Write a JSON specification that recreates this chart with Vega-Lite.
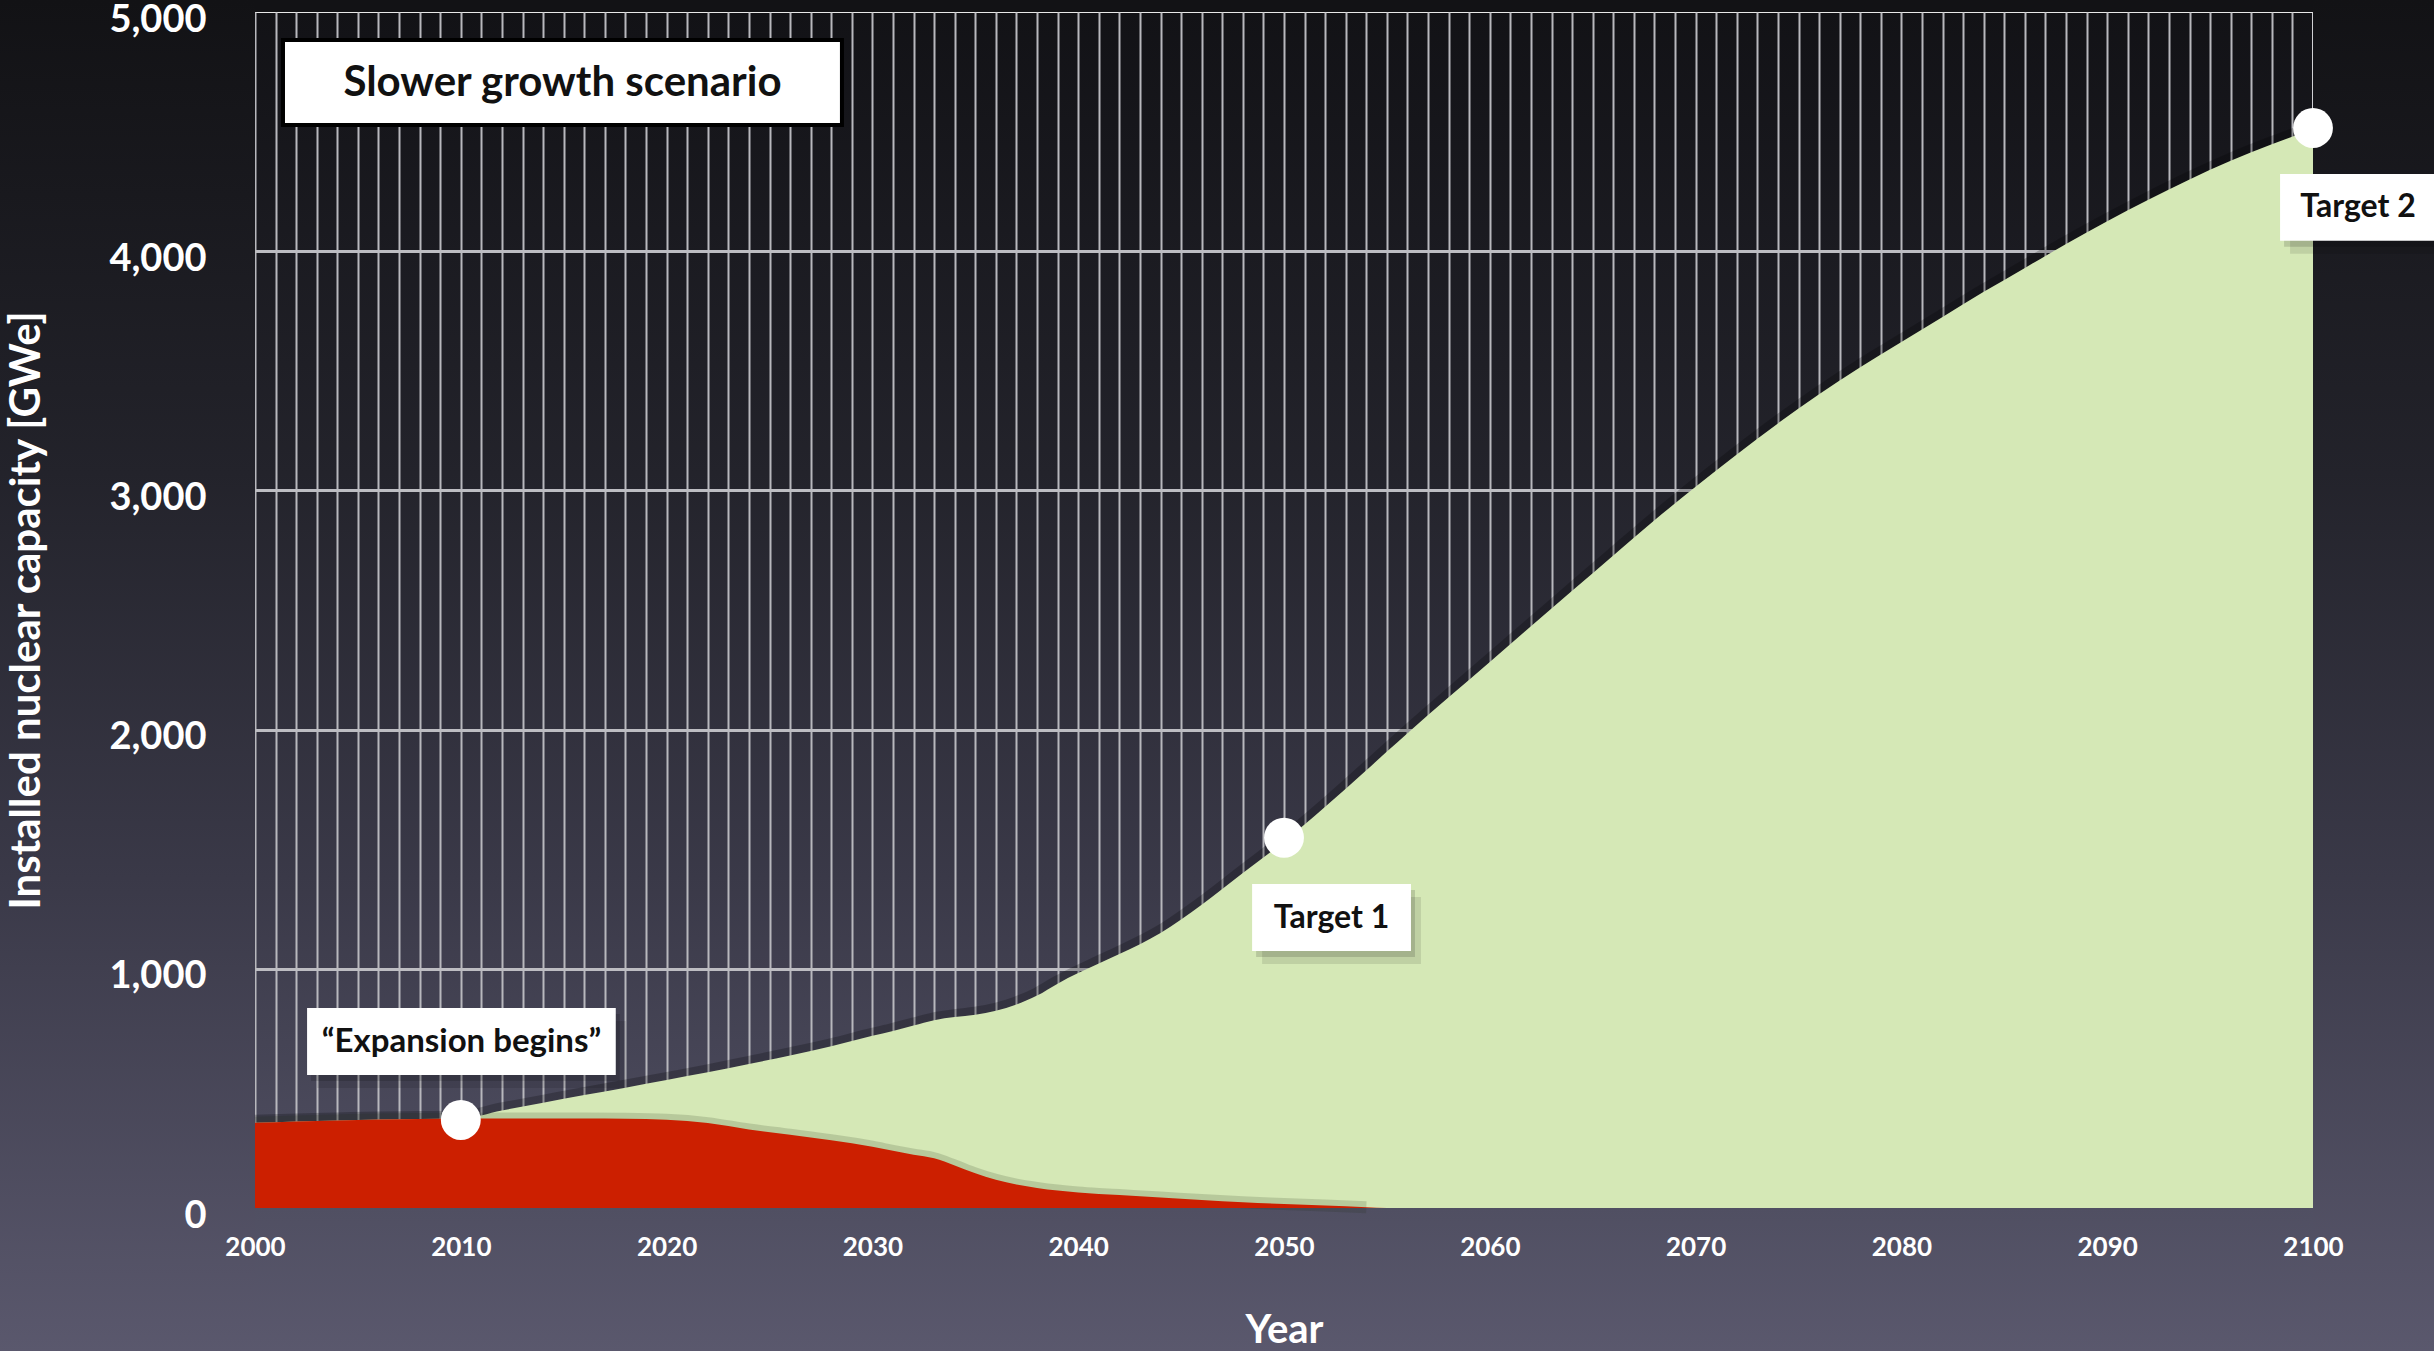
{
  "$schema": "https://vega.github.io/schema/vega-lite/v6.json",
  "width": 2058,
  "height": 1196,
  "autosize": {"type": "none"},
  "padding": {"left": 255, "top": 12, "right": 121, "bottom": 143},
  "background": "#2a2a33",
  "config": {
    "font": "Lato",
    "view": {
      "fill": {
        "gradient": "linear", "x1": 0, "y1": 0, "x2": 0, "y2": 1,
        "stops": [
          {"offset": 0, "color": "#121216"},
          {"offset": 0.385, "color": "#23232b"},
          {"offset": 0.724, "color": "#3a3948"},
          {"offset": 1, "color": "#504f62"}
        ]
      },
      "stroke": "#e8e8e8",
      "strokeWidth": 2
    }
  },
  "datasets": {
    "capacity": [
      {"year": 2000, "total": 356, "existing": 356},
      {"year": 2002, "total": 362, "existing": 362},
      {"year": 2004, "total": 366, "existing": 366},
      {"year": 2006, "total": 370, "existing": 370},
      {"year": 2008, "total": 372, "existing": 372},
      {"year": 2010, "total": 374, "existing": 373},
      {"year": 2012, "total": 408, "existing": 374},
      {"year": 2014, "total": 440, "existing": 374},
      {"year": 2016, "total": 472, "existing": 374},
      {"year": 2018, "total": 503, "existing": 373},
      {"year": 2020, "total": 535, "existing": 369},
      {"year": 2022, "total": 567, "existing": 355},
      {"year": 2024, "total": 602, "existing": 328},
      {"year": 2026, "total": 638, "existing": 306},
      {"year": 2028, "total": 676, "existing": 283},
      {"year": 2030, "total": 720, "existing": 256},
      {"year": 2031, "total": 740, "existing": 239},
      {"year": 2032, "total": 763, "existing": 223},
      {"year": 2033, "total": 785, "existing": 208},
      {"year": 2034, "total": 798, "existing": 178},
      {"year": 2035, "total": 808, "existing": 145},
      {"year": 2036, "total": 825, "existing": 118},
      {"year": 2037, "total": 851, "existing": 98},
      {"year": 2038, "total": 888, "existing": 84},
      {"year": 2039, "total": 938, "existing": 73},
      {"year": 2040, "total": 982, "existing": 65},
      {"year": 2041, "total": 1022, "existing": 59},
      {"year": 2042, "total": 1062, "existing": 54},
      {"year": 2044, "total": 1150, "existing": 44},
      {"year": 2046, "total": 1268, "existing": 33},
      {"year": 2048, "total": 1400, "existing": 24},
      {"year": 2050, "total": 1532, "existing": 17},
      {"year": 2052, "total": 1677, "existing": 10},
      {"year": 2054, "total": 1830, "existing": 3},
      {"year": 2055, "total": 1908, "existing": 0},
      {"year": 2056, "total": 1985, "existing": 0},
      {"year": 2058, "total": 2135, "existing": 0},
      {"year": 2060, "total": 2283, "existing": 0},
      {"year": 2062, "total": 2432, "existing": 0},
      {"year": 2064, "total": 2580, "existing": 0},
      {"year": 2066, "total": 2728, "existing": 0},
      {"year": 2068, "total": 2875, "existing": 0},
      {"year": 2070, "total": 3015, "existing": 0},
      {"year": 2072, "total": 3150, "existing": 0},
      {"year": 2074, "total": 3280, "existing": 0},
      {"year": 2076, "total": 3402, "existing": 0},
      {"year": 2078, "total": 3515, "existing": 0},
      {"year": 2080, "total": 3620, "existing": 0},
      {"year": 2082, "total": 3725, "existing": 0},
      {"year": 2084, "total": 3830, "existing": 0},
      {"year": 2086, "total": 3930, "existing": 0},
      {"year": 2088, "total": 4030, "existing": 0},
      {"year": 2090, "total": 4125, "existing": 0},
      {"year": 2092, "total": 4215, "existing": 0},
      {"year": 2094, "total": 4300, "existing": 0},
      {"year": 2096, "total": 4378, "existing": 0},
      {"year": 2098, "total": 4447, "existing": 0},
      {"year": 2100, "total": 4510, "existing": 0}
    ],
    "milestones": [
      {"year": 2010, "capacity": 368},
      {"year": 2050, "capacity": 1548},
      {"year": 2100, "capacity": 4515}
    ],
    "single": [{}]
  },
  "resolve": {"axis": {"x": "independent", "y": "independent"}},
  "layer": [
    {
      "description": "backdrop left of the plot",
      "data": {"name": "single"},
      "mark": {"type": "rect", "fill": {"gradient": "linear", "x1": 0, "y1": 0, "x2": 0, "y2": 1, "stops": [
        {"offset": 0, "color": "#121215"}, {"offset": 0.35, "color": "#23232b"},
        {"offset": 0.65, "color": "#3a3948"}, {"offset": 1, "color": "#5a586d"}]}},
      "encoding": {
        "x": {"datum": 1980, "type": "quantitative", "scale": {"domain": [2000, 2100], "nice": false, "zero": false}, "axis": null},
        "x2": {"datum": 2000},
        "y": {"datum": 5050.2, "type": "quantitative", "scale": {"domain": [0, 5000], "nice": false}, "axis": null},
        "y2": {"datum": -597.8}
      }
    },
    {
      "description": "backdrop right of the plot",
      "data": {"name": "single"},
      "mark": {"type": "rect", "fill": {"gradient": "linear", "x1": 0, "y1": 0, "x2": 0, "y2": 1, "stops": [
        {"offset": 0, "color": "#121215"}, {"offset": 0.35, "color": "#23232b"},
        {"offset": 0.65, "color": "#3a3948"}, {"offset": 1, "color": "#5a586d"}]}},
      "encoding": {
        "x": {"datum": 2100, "type": "quantitative", "axis": null},
        "x2": {"datum": 2120},
        "y": {"datum": 5050.2, "type": "quantitative", "axis": null},
        "y2": {"datum": -597.8}
      }
    },
    {
      "description": "backdrop above the plot",
      "data": {"name": "single"},
      "mark": {"type": "rect", "fill": "#121215"},
      "encoding": {
        "x": {"datum": 2000, "type": "quantitative", "axis": null},
        "x2": {"datum": 2100},
        "y": {"datum": 5060, "type": "quantitative", "axis": null},
        "y2": {"datum": 5000}
      }
    },
    {
      "description": "backdrop below the plot",
      "data": {"name": "single"},
      "mark": {"type": "rect", "fill": {"gradient": "linear", "x1": 0, "y1": 0, "x2": 0, "y2": 1, "stops": [
        {"offset": 0, "color": "#504f62"}, {"offset": 1, "color": "#5a586d"}]}},
      "encoding": {
        "x": {"datum": 2000, "type": "quantitative", "axis": null},
        "x2": {"datum": 2100},
        "y": {"datum": 0, "type": "quantitative", "axis": null},
        "y2": {"datum": -597.8}
      }
    },
    {
      "description": "soft shadow along the total capacity edge",
      "data": {"name": "capacity"},
      "mark": {"type": "line", "interpolate": "monotone", "stroke": "#000000", "strokeWidth": 16, "opacity": 0.22},
      "encoding": {
        "x": {"field": "year", "type": "quantitative", "axis": null},
        "y": {"field": "total", "type": "quantitative", "axis": null}
      }
    },
    {
      "description": "total installed capacity",
      "data": {"name": "capacity"},
      "mark": {"type": "area", "interpolate": "monotone", "fill": "#d5e8b6"},
      "encoding": {
        "x": {"field": "year", "type": "quantitative",
              "axis": {"grid": true, "tickCount": 100, "gridColor": "#b8b8bd", "gridWidth": 2,
                       "labels": false, "ticks": false, "domain": false, "title": null, "zindex": 0}},
        "y": {"field": "total", "type": "quantitative",
              "axis": {"grid": true, "values": [1000, 2000, 3000, 4000], "gridColor": "#bdbdc2", "gridWidth": 3,
                       "labels": false, "ticks": false, "domain": false, "title": null, "zindex": 0}}
      }
    },
    {
      "description": "soft shadow along the existing fleet edge",
      "data": {"name": "capacity"},
      "transform": [{"filter": "datum.existing > 0"}],
      "mark": {"type": "line", "interpolate": "monotone", "stroke": "#1d2a10", "strokeWidth": 12, "opacity": 0.16},
      "encoding": {
        "x": {"field": "year", "type": "quantitative", "axis": null},
        "y": {"field": "existing", "type": "quantitative", "axis": null}
      }
    },
    {
      "description": "existing reactor fleet",
      "data": {"name": "capacity"},
      "mark": {"type": "area", "interpolate": "monotone", "fill": "#cc1f00"},
      "encoding": {
        "x": {"field": "year", "type": "quantitative",
              "axis": {"orient": "bottom", "values": [2000, 2010, 2020, 2030, 2040, 2050, 2060, 2070, 2080, 2090, 2100],
                       "format": "d", "grid": false, "ticks": false, "domain": false,
                       "labelFont": "Lato", "labelFontSize": 26, "labelFontWeight": "bold", "labelColor": "#ffffff",
                       "labelPadding": 26, "labelFlush": false, "labelOverlap": false, "labelBound": false,
                       "title": "Year", "titleFont": "Lato", "titleFontSize": 40, "titleFontWeight": "bold",
                       "titleColor": "#ffffff", "titlePadding": 50, "zindex": 1}},
        "y": {"field": "existing", "type": "quantitative",
              "axis": {"orient": "left", "values": [0, 1000, 2000, 3000, 4000, 5000],
                       "format": ",.0f", "grid": false, "ticks": false, "domain": false,
                       "labelFont": "Lato", "labelFontSize": 38, "labelFontWeight": "bold", "labelColor": "#ffffff",
                       "labelPadding": 49, "labelOffset": 8, "labelFlush": false, "labelOverlap": false, "labelBound": false,
                       "title": "Installed nuclear capacity [GWe]", "titleFont": "Lato", "titleFontSize": 42,
                       "titleFontWeight": "bold", "titleColor": "#ffffff", "titlePadding": 60, "zindex": 1}}
      }
    },
    {
      "description": "milestone markers",
      "data": {"name": "milestones"},
      "mark": {"type": "circle", "fill": "#ffffff", "opacity": 1, "size": 1590},
      "encoding": {
        "x": {"field": "year", "type": "quantitative", "axis": null},
        "y": {"field": "capacity", "type": "quantitative", "axis": null}
      }
    },
    {
      "description": "scenario name box",
      "data": {"name": "single"},
      "mark": {"type": "rect", "fill": "#ffffff", "stroke": "#000000", "strokeWidth": 4},
      "encoding": {
        "x": {"datum": 2001.36, "type": "quantitative", "axis": null},
        "x2": {"datum": 2028.52},
        "y": {"datum": 4883, "type": "quantitative", "axis": null},
        "y2": {"datum": 4528}
      }
    },
    {
      "data": {"name": "single"},
      "mark": {"type": "text", "text": "Slower growth scenario", "font": "Lato", "fontSize": 42, "fontWeight": "bold", "color": "#111111", "align": "center", "baseline": "middle"},
      "encoding": {
        "x": {"datum": 2014.94, "type": "quantitative", "axis": null},
        "y": {"datum": 4705, "type": "quantitative", "axis": null}
      }
    },
    {
      "description": "callout shadows, two soft passes",
      "data": {"name": "single"},
      "mark": {"type": "rect", "fill": "#000000", "opacity": 0.14, "xOffset": 4, "x2Offset": 4, "yOffset": 6, "y2Offset": 6},
      "encoding": {
        "x": {"datum": 2002.53, "type": "quantitative", "axis": null},
        "x2": {"datum": 2017.53},
        "y": {"datum": 836, "type": "quantitative", "axis": null},
        "y2": {"datum": 556}
      }
    },
    {
      "data": {"name": "single"},
      "mark": {"type": "rect", "fill": "#000000", "opacity": 0.1, "xOffset": 10, "x2Offset": 10, "yOffset": 13, "y2Offset": 13},
      "encoding": {
        "x": {"datum": 2002.53, "type": "quantitative", "axis": null},
        "x2": {"datum": 2017.53},
        "y": {"datum": 836, "type": "quantitative", "axis": null},
        "y2": {"datum": 556}
      }
    },
    {
      "data": {"name": "single"},
      "mark": {"type": "rect", "fill": "#ffffff"},
      "encoding": {
        "x": {"datum": 2002.53, "type": "quantitative", "axis": null},
        "x2": {"datum": 2017.53},
        "y": {"datum": 836, "type": "quantitative", "axis": null},
        "y2": {"datum": 556}
      }
    },
    {
      "data": {"name": "single"},
      "mark": {"type": "text", "text": "“Expansion begins”", "font": "Lato", "fontSize": 33, "fontWeight": "bold", "color": "#111111", "align": "center", "baseline": "middle"},
      "encoding": {
        "x": {"datum": 2010.03, "type": "quantitative", "axis": null},
        "y": {"datum": 696, "type": "quantitative", "axis": null}
      }
    },
    {
      "data": {"name": "single"},
      "mark": {"type": "rect", "fill": "#000000", "opacity": 0.14, "xOffset": 4, "x2Offset": 4, "yOffset": 6, "y2Offset": 6},
      "encoding": {
        "x": {"datum": 2048.45, "type": "quantitative", "axis": null},
        "x2": {"datum": 2056.17},
        "y": {"datum": 1354, "type": "quantitative", "axis": null},
        "y2": {"datum": 1074}
      }
    },
    {
      "data": {"name": "single"},
      "mark": {"type": "rect", "fill": "#000000", "opacity": 0.1, "xOffset": 10, "x2Offset": 10, "yOffset": 13, "y2Offset": 13},
      "encoding": {
        "x": {"datum": 2048.45, "type": "quantitative", "axis": null},
        "x2": {"datum": 2056.17},
        "y": {"datum": 1354, "type": "quantitative", "axis": null},
        "y2": {"datum": 1074}
      }
    },
    {
      "data": {"name": "single"},
      "mark": {"type": "rect", "fill": "#ffffff"},
      "encoding": {
        "x": {"datum": 2048.45, "type": "quantitative", "axis": null},
        "x2": {"datum": 2056.17},
        "y": {"datum": 1354, "type": "quantitative", "axis": null},
        "y2": {"datum": 1074}
      }
    },
    {
      "data": {"name": "single"},
      "mark": {"type": "text", "text": "Target 1", "font": "Lato", "fontSize": 32, "fontWeight": "bold", "color": "#111111", "align": "center", "baseline": "middle"},
      "encoding": {
        "x": {"datum": 2052.31, "type": "quantitative", "axis": null},
        "y": {"datum": 1214, "type": "quantitative", "axis": null}
      }
    },
    {
      "data": {"name": "single"},
      "mark": {"type": "rect", "fill": "#000000", "opacity": 0.14, "xOffset": 4, "x2Offset": 4, "yOffset": 6, "y2Offset": 6},
      "encoding": {
        "x": {"datum": 2098.4, "type": "quantitative", "axis": null},
        "x2": {"datum": 2107},
        "y": {"datum": 4323, "type": "quantitative", "axis": null},
        "y2": {"datum": 4044}
      }
    },
    {
      "data": {"name": "single"},
      "mark": {"type": "rect", "fill": "#000000", "opacity": 0.1, "xOffset": 10, "x2Offset": 10, "yOffset": 13, "y2Offset": 13},
      "encoding": {
        "x": {"datum": 2098.4, "type": "quantitative", "axis": null},
        "x2": {"datum": 2107},
        "y": {"datum": 4323, "type": "quantitative", "axis": null},
        "y2": {"datum": 4044}
      }
    },
    {
      "data": {"name": "single"},
      "mark": {"type": "rect", "fill": "#ffffff"},
      "encoding": {
        "x": {"datum": 2098.4, "type": "quantitative", "axis": null},
        "x2": {"datum": 2107},
        "y": {"datum": 4323, "type": "quantitative", "axis": null},
        "y2": {"datum": 4044}
      }
    },
    {
      "data": {"name": "single"},
      "mark": {"type": "text", "text": "Target 2", "font": "Lato", "fontSize": 32, "fontWeight": "bold", "color": "#111111", "align": "center", "baseline": "middle"},
      "encoding": {
        "x": {"datum": 2102.19, "type": "quantitative", "axis": null},
        "y": {"datum": 4185, "type": "quantitative", "axis": null}
      }
    }
  ]
}
